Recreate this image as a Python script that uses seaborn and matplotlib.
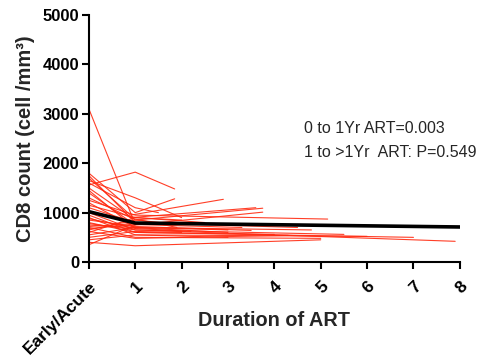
import matplotlib
matplotlib.use("Agg")
import matplotlib.pyplot as plt
import seaborn as sns
import pandas as pd

# Individual subject trajectories (years on ART, CD8 count)
subj_years = [
    [0, 0.95, 1.9], [0, 1, 1.85], [0, 1, 1.85], [0, 0.9, 2.9], [0, 1, 2.0],
    [0, 1, 3.75], [0, 1, 3.75], [0, 0.9, 3.6], [0, 1, 5.15], [0, 1, 4.8],
    [0, 1, 4.5], [0, 1, 7.9], [0, 1, 7.0], [0, 1, 6.0], [0, 1, 3.5],
    [0, 1, 4.0], [0, 0.9, 3.0], [0, 1, 5.0], [0, 1, 5.0], [0, 1, 2.0],
    [0, 1, 2.5], [0, 1, 3.0], [0, 1, 2.0], [0, 1, 3.0], [0, 1],
    [0, 1], [0, 1, 1.5], [0, 1], [0, 1, 2.0], [0, 1, 3.8],
    [0, 1, 4.3], [0, 1, 5.5], [0, 1, 3.3], [0, 1, 2.2],
]
subj_cd8 = [
    [3100, 880, 700], [1560, 1820, 1480], [1800, 1000, 1280], [1700, 950, 1270], [1650, 1300, 900],
    [1500, 850, 1090], [1400, 750, 1010], [1300, 900, 1100], [1250, 950, 870], [1200, 700, 650],
    [1100, 800, 700], [1000, 650, 420], [950, 600, 500], [900, 550, 520], [850, 720, 640],
    [800, 600, 560], [750, 700, 600], [700, 500, 480], [400, 330, 450], [650, 850, 760],
    [600, 900, 800], [550, 700, 650], [500, 620, 600], [450, 550, 500], [350, 750],
    [1750, 800], [1600, 1100, 1000], [1450, 680], [1150, 900, 850], [720, 780, 760],
    [620, 480, 540], [780, 650, 560], [680, 760, 700], [880, 680, 620],
]
# Group mean line
mean_years = [0, 1, 8]
mean_cd8 = [1020, 790, 710]

x_ticks = [0, 1, 2, 3, 4, 5, 6, 7, 8]
x_labels = ["Early/Acute", "1", "2", "3", "4", "5", "6", "7", "8"]
y_ticks = [0, 1000, 2000, 3000, 4000, 5000]

rows = []
for i, (xs, ys) in enumerate(zip(subj_years, subj_cd8)):
    for x, y in zip(xs, ys):
        rows.append({"subject": i, "years": x, "cd8": y})
df = pd.DataFrame(rows)
mdf = pd.DataFrame({"years": mean_years, "cd8": mean_cd8})

sns.set_theme(style="ticks")
plt.rcParams["font.family"] = ["Liberation Sans", "DejaVu Sans"]

fig = plt.figure(figsize=(4.83, 3.58), dpi=100)
ax = fig.add_axes([0.184, 0.268, 0.768, 0.690])

sns.lineplot(data=df, x="years", y="cd8", units="subject", estimator=None,
             color="#ff2a10", linewidth=0.8, alpha=0.9, ax=ax, legend=False)
sns.lineplot(data=mdf, x="years", y="cd8", color="black", linewidth=2.6, ax=ax)

ax.set_xlim(0, 8)
ax.set_ylim(0, 5000)
ax.set_xticks(x_ticks)
ax.set_xticklabels(x_labels, rotation=45, ha="right", rotation_mode="anchor",
                   fontweight="bold", fontsize=12.5)
ax.set_yticks(y_ticks)
ax.set_yticklabels([str(v) for v in y_ticks], fontweight="bold", fontsize=12)
ax.tick_params(axis="both", direction="out", length=5, width=1.5, colors="black", pad=2)
ax.tick_params(axis="x", pad=7)
for s in ["left", "bottom"]:
    ax.spines[s].set_linewidth(1.5)
    ax.spines[s].set_color("black")
for s in ["top", "right"]:
    ax.spines[s].set_visible(False)
for s in ["left", "bottom"]:
    ax.spines[s].set_clip_on(False)

ax.set_xlabel("Duration of ART", fontweight="bold", fontsize=14.3)
ax.xaxis.set_label_coords(0.5, -0.2)
ax.set_ylabel("CD8 count (cell /mm³)", fontweight="bold", fontsize=14.5)
ax.yaxis.set_label_coords(-0.145, 0.5)

ax.text(4.65, 2713, "0 to 1Yr ART=0.003", fontsize=11.5, va="center", ha="left")
ax.text(4.65, 2227, "1 to >1Yr  ART: P=0.549", fontsize=11.5, va="center", ha="left")

fig.savefig("out.png", dpi=100)
